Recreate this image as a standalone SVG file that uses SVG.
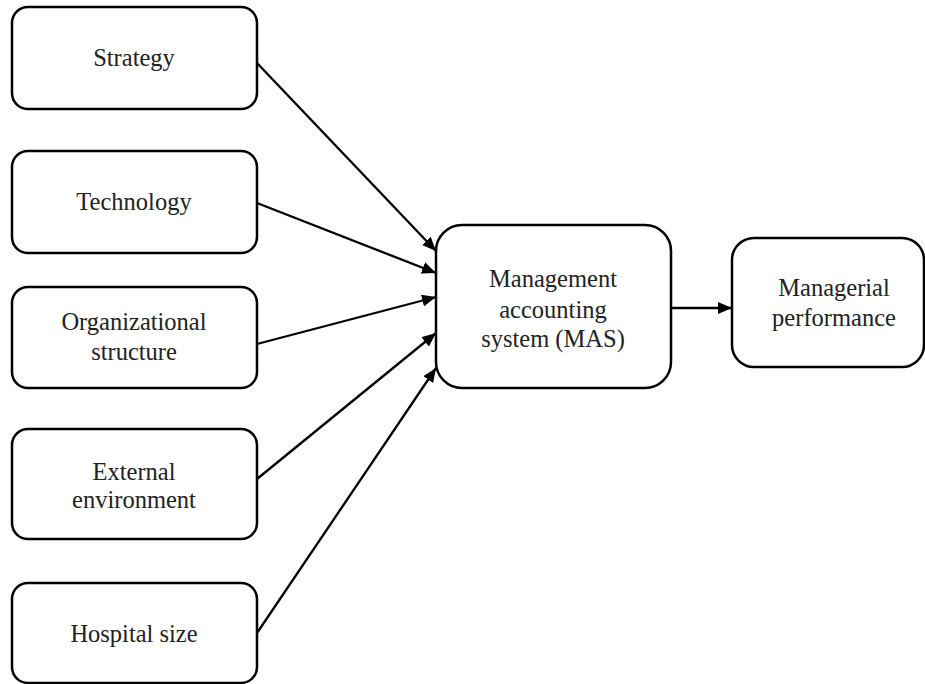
<svg xmlns="http://www.w3.org/2000/svg" width="925" height="684" viewBox="0 0 925 684">
<style>
.box{fill:#fff;stroke:#000;stroke-width:2.5}
.lbl{font-family:"Liberation Serif","Times New Roman",serif;font-size:24.5px;fill:#222;text-anchor:middle}
.edge{stroke:#000;stroke-width:2.3;fill:none;marker-end:url(#ah)}
</style>
<defs>
<marker id="ah" viewBox="0 0 14 12" refX="14" refY="6" markerWidth="14" markerHeight="12" markerUnits="userSpaceOnUse" orient="auto">
<path d="M0,0 L14,6 L0,12 Z" fill="#000"/>
</marker>
</defs>
<rect width="925" height="684" fill="#fff"/>
<g id="strategy"><rect class="box" x="12" y="7" width="245" height="102" rx="16"/><text class="lbl" x="134" y="66">Strategy</text></g>
<g id="technology"><rect class="box" x="12" y="151" width="245" height="102" rx="16"/><text class="lbl" x="134" y="210">Technology</text></g>
<g id="orgstructure"><rect class="box" x="12" y="287" width="245" height="101" rx="16"/><text class="lbl" x="134" y="330">Organizational</text><text class="lbl" x="134" y="360">structure</text></g>
<g id="external"><rect class="box" x="12" y="429" width="245" height="110" rx="16"/><text class="lbl" x="134" y="480">External</text><text class="lbl" x="134" y="508">environment</text></g>
<g id="hospital"><rect class="box" x="12" y="583" width="245" height="100" rx="16"/><text class="lbl" x="134" y="642">Hospital size</text></g>
<g id="mas"><rect class="box" x="436" y="225" width="235" height="163" rx="26"/><text class="lbl" x="553" y="287">Management</text><text class="lbl" x="553" y="318">accounting</text><text class="lbl" x="553" y="347">system (MAS)</text></g>
<g id="performance"><rect class="box" x="732" y="238" width="192" height="129" rx="22"/><text class="lbl" x="834" y="296">Managerial</text><text class="lbl" x="834" y="326">performance</text></g>
<g id="connectors">
<line class="edge" x1="257" y1="63" x2="436" y2="251"/>
<line class="edge" x1="257" y1="203" x2="436" y2="273"/>
<line class="edge" x1="257" y1="344" x2="436" y2="297"/>
<line class="edge" x1="257" y1="479" x2="436" y2="333"/>
<line class="edge" x1="257" y1="633" x2="436" y2="368"/>
<line class="edge" x1="671" y1="308" x2="732" y2="308"/>
</g>
</svg>
